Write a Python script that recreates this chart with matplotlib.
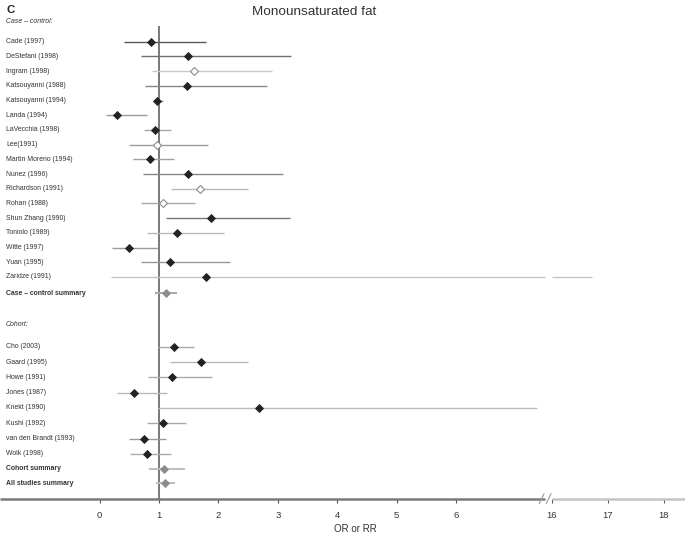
import numpy as np
import matplotlib
matplotlib.use("Agg")
import matplotlib.pyplot as plt

plt.rcParams['font.family'] = ['Liberation Sans', 'DejaVu Sans']

# ---------------- data ----------------
cc_names = ["Cade (1997)", "DeStefani (1998)", "Ingram (1998)", "Katsouyanni (1988)",
            "Katsouyanni (1994)", "Landa (1994)", "LaVecchia (1998)", "Lee(1991)",
            "Martin Moreno (1994)", "Nunez (1996)", "Richardson (1991)", "Rohan (1988)",
            "Shun Zhang (1990)", "Toniolo (1989)", "Witte (1997)", "Yuan (1995)",
            "Zaridze (1991)"]
cc_or = [0.86, 1.49, 1.59, 1.47, 0.97, 0.29, 0.94, 0.97, 0.84, 1.49, 1.69, 1.06,
         1.88, 1.30, 0.49, 1.19, 1.79]
cc_lo = [0.41, 0.69, 0.89, 0.76, 0.92, 0.10, 0.75, 0.50, 0.57, 0.73, 1.20, 0.69,
         1.11, 0.79, 0.20, 0.70, 0.19]
cc_hi = [1.79, 3.22, 2.90, 2.81, 1.07, 0.79, 1.20, 1.82, 1.25, 3.09, 2.49, 1.61,
         3.20, 2.09, 0.99, 2.20, 16.72]
cc_open = [False, False, True, False, False, False, False, True, False, False, True,
           True, False, False, False, False, False]

co_names = ["Cho (2003)", "Gaard (1995)", "Howe (1991)", "Jones (1987)", "Knekt (1990)",
            "Kushi (1992)", "van den Brandt (1993)", "Wolk (1998)"]
co_or = [1.25, 1.71, 1.22, 0.58, 2.69, 1.07, 0.74, 0.79]
co_lo = [0.98, 1.19, 0.81, 0.29, 0.99, 0.80, 0.50, 0.51]
co_hi = [1.59, 2.49, 1.89, 1.13, 7.36, 1.46, 1.11, 1.20]

summary_names = ["Case \u2013 control summary", "Cohort summary", "All studies summary"]
summary_or = [1.11, 1.09, 1.10]
summary_lo = [0.94, 0.83, 0.95]
summary_hi = [1.31, 1.43, 1.27]

xticks = [0, 1, 2, 3, 4, 5, 6, 16, 17, 18]

# ---------------- styles ----------------
cc_line_gray = ['#5a5a5a', '#707070', '#c8c8c8', '#888888', '#8a8a8a', '#9a9a9a',
                '#a8a8a8', '#9c9c9c', '#a0a0a0', '#888888', '#b8b8b8', '#a8a8a8',
                '#777777', '#b8b8b8', '#9a9a9a', '#999999', '#c4c4c4']
co_line_gray = ['#aaaaaa', '#b8b8b8', '#aaaaaa', '#b8b8b8', '#bcbcbc', '#aaaaaa',
                '#999999', '#aaaaaa']
sum_line_gray = ['#a8a8a8', '#bdbdbd', '#bdbdbd']

BREAK_LO, BREAK_HI = 7.5, 16.0
D16, SLOPE = 7.61, 0.943


def fwd(x):
    x = np.asarray(x, dtype=float)
    return np.where(x <= 7.6, x,
                    np.where(x >= 16, D16 + SLOPE * (x - 16),
                             7.6 + (x - 7.6) * (D16 - 7.6) / (16 - 7.6)))


def inv(d):
    d = np.asarray(d, dtype=float)
    return np.where(d <= 7.6, d,
                    np.where(d >= D16, 16 + (d - D16) / SLOPE,
                             7.6 + (d - 7.6) * (16 - 7.6) / (D16 - 7.6)))


W, H = 685, 536
fig = plt.figure(figsize=(W / 100, H / 100), dpi=100)
ax_bottom_px = 499
ax = fig.add_axes([0, (H - ax_bottom_px) / H, 1, ax_bottom_px / H])
ax.set_xscale('function', functions=(fwd, inv))
ax.set_xlim(-1.677, 18.38)
ax.set_ylim(32.1, -1.84)
for s in ax.spines.values():
    s.set_visible(False)

# row positions
cc_y = np.arange(1, len(cc_names) + 1, dtype=float)
cc_sum_y = cc_y[-1] + 1.1
co_head_y = cc_sum_y + 2.1
co_y = co_head_y + 1.55 + np.arange(len(co_names)) * 1.04
co_sum_y = co_y[-1] + 1.0
all_y = co_sum_y + 1.0
sum_y = [cc_sum_y, co_sum_y, all_y]

# reference line at 1
ax.vlines(1, -0.05, 32.1, color='#6e6e6e', lw=1.3, zorder=1)


def draw_ci(y, lo, hi, color, lw=1.0):
    if hi > BREAK_HI:
        ax.plot([lo, BREAK_LO], [y, y], color=color, lw=lw, zorder=2, solid_capstyle='butt')
        ax.plot([BREAK_HI, hi], [y, y], color=color, lw=lw, zorder=2, solid_capstyle='butt')
    else:
        ax.plot([lo, hi], [y, y], color=color, lw=lw, zorder=2, solid_capstyle='butt')


lab_x = 6 / W
txt_col = '#333333'
FS = 4.95
MS = 3.6
trans = ax.get_yaxis_transform()

ax.text(lab_x, -0.41, "Case \u2013 control:", transform=trans,
        fontsize=FS, style='italic', color=txt_col, va='center', ha='left')
for i, name in enumerate(cc_names):
    y = cc_y[i]
    draw_ci(y, cc_lo[i], cc_hi[i], cc_line_gray[i])
    if cc_open[i]:
        ax.plot(cc_or[i], y, marker='D', ms=MS, mfc='white', mec='#8a8a8a', mew=0.8, zorder=3)
    else:
        ax.plot(cc_or[i], y, marker='D', ms=MS, mfc='#222222', mec='#222222', mew=0.6, zorder=3)
    ax.text(lab_x, y, name, transform=trans, fontsize=FS,
            color=txt_col, va='center', ha='left')

ax.text(lab_x, co_head_y, "Cohort:", transform=trans,
        fontsize=FS, style='italic', color=txt_col, va='center', ha='left')
for i, name in enumerate(co_names):
    y = co_y[i]
    draw_ci(y, co_lo[i], co_hi[i], co_line_gray[i])
    ax.plot(co_or[i], y, marker='D', ms=MS, mfc='#222222', mec='#222222', mew=0.6, zorder=3)
    ax.text(lab_x, y, name, transform=trans, fontsize=FS,
            color=txt_col, va='center', ha='left')

for i, name in enumerate(summary_names):
    y = sum_y[i]
    draw_ci(y, summary_lo[i], summary_hi[i], sum_line_gray[i], lw=1.4)
    ax.plot(summary_or[i], y, marker='D', ms=MS, mfc='#8c8c8c', mec='#8c8c8c', mew=0.6, zorder=3)
    ax.text(lab_x, y, name, transform=trans, fontsize=FS,
            fontweight='bold', color=txt_col, va='center', ha='left')

# x axis with break
axis_y = 32.1
ax.plot([-1.677, BREAK_LO], [axis_y, axis_y], color='#7a7a7a', lw=1.8,
        clip_on=False, zorder=4, solid_capstyle='butt')
ax.plot([BREAK_HI, 18.38], [axis_y, axis_y], color='#c4c4c4', lw=1.8,
        clip_on=False, zorder=4, solid_capstyle='butt')
for xb in (7.44, 7.56):
    ax.plot([xb - 0.04, xb + 0.04], [axis_y + 0.3, axis_y - 0.35], color='#9a9a9a',
            lw=0.8, clip_on=False, zorder=5)

ax.set_xticks(xticks)
ax.set_xticklabels([str(t) for t in xticks])
ax.tick_params(axis='x', direction='out', length=3, width=0.8, color='#555555',
               labelsize=6.8, labelcolor='#333333', pad=6, bottom=True)
ax.set_yticks([])

fig.text(355 / W, 1 - 529 / H, "OR or RR", fontsize=7.0, color='#333333',
         ha='center', va='center')
fig.text(314.5 / W, 1 - 15 / H, "Monounsaturated fat", fontsize=9.7, color='#333333',
         ha='center', va='baseline')
fig.text(6 / W, 1 - 13 / H, "C", fontsize=8.2, fontweight='bold', color='#222222',
         ha='left', va='baseline')

fig.savefig("out.png", dpi=100)
